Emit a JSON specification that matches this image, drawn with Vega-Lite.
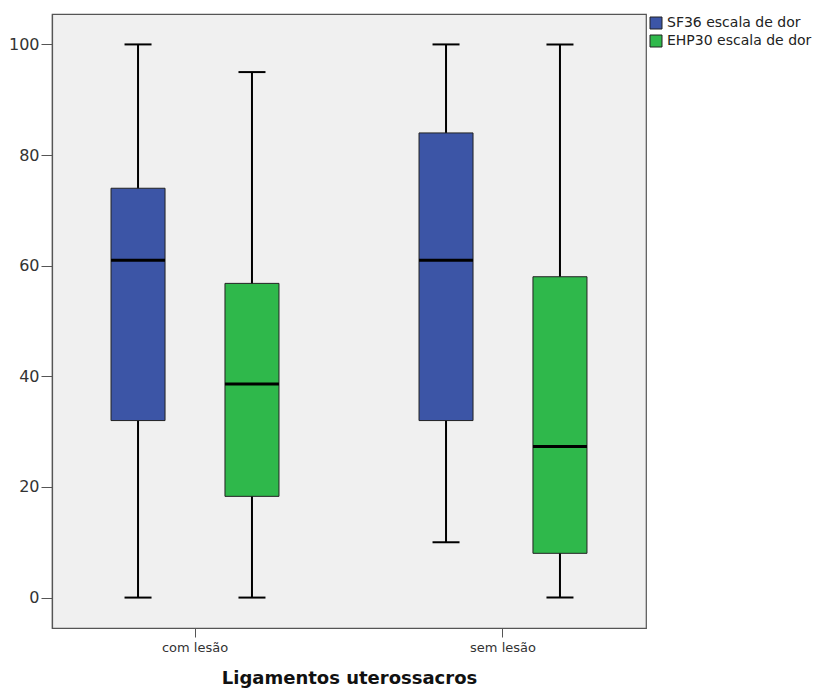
{
  "$schema": "https://vega.github.io/schema/vega-lite/v6.json",
  "autosize": {"type": "none"},
  "width": 594,
  "height": 614,
  "padding": {"left": 52, "top": 14, "right": 172, "bottom": 62},
  "background": "white",
  "config": {
    "font": "DejaVu Sans",
    "view": {"fill": "#f0f0f0", "stroke": "#555555", "strokeWidth": 1.2}
  },
  "data": {
    "values": [
      {"grupo": "com lesão", "escala": "SF36 escala de dor", "min": 0, "q1": 32, "median": 61, "q3": 74, "max": 100},
      {"grupo": "com lesão", "escala": "EHP30 escala de dor", "min": 0, "q1": 18.3, "median": 38.6, "q3": 56.8, "max": 95},
      {"grupo": "sem lesão", "escala": "SF36 escala de dor", "min": 10, "q1": 32, "median": 61, "q3": 84, "max": 100},
      {"grupo": "sem lesão", "escala": "EHP30 escala de dor", "min": 0, "q1": 8, "median": 27.3, "q3": 58, "max": 100}
    ]
  },
  "encoding": {
    "x": {
      "field": "grupo", "type": "nominal", "sort": ["com lesão", "sem lesão"],
      "scale": {"paddingInner": 0.0714, "paddingOuter": 0},
      "axis": {
        "title": "Ligamentos uterossacros", "titleFontSize": 18, "titleFontWeight": "bold",
        "titleColor": "#111111", "titlePadding": 15,
        "labelAngle": 0, "labelFontSize": 13, "labelColor": "#333333", "labelPadding": 4,
        "tickSize": 9, "tickColor": "#555555", "domainColor": "#555555", "domainWidth": 1.2
      }
    },
    "xOffset": {
      "field": "escala", "type": "nominal", "sort": ["SF36 escala de dor", "EHP30 escala de dor"],
      "scale": {"paddingInner": 0.526, "paddingOuter": 0.518}
    },
    "y": {
      "field": "min", "type": "quantitative",
      "scale": {"domain": [-5.5, 105.5], "nice": false, "zero": false},
      "axis": {
        "title": null, "grid": false, "values": [0, 20, 40, 60, 80, 100],
        "labelFontSize": 16, "labelColor": "#333333", "labelPadding": 2,
        "tickSize": 11, "tickColor": "#555555", "domainColor": "#555555", "domainWidth": 1.2
      }
    }
  },
  "layer": [
    {
      "mark": {"type": "rule", "color": "black", "strokeWidth": 2},
      "encoding": {"y2": {"field": "max"}}
    },
    {
      "mark": {"type": "bar", "stroke": "#222222", "strokeWidth": 1},
      "encoding": {
        "y": {"field": "q1", "type": "quantitative"},
        "y2": {"field": "q3"},
        "color": {
          "field": "escala", "type": "nominal",
          "sort": ["SF36 escala de dor", "EHP30 escala de dor"],
          "scale": {"domain": ["SF36 escala de dor", "EHP30 escala de dor"], "range": ["#3c55a6", "#2fb84b"]},
          "legend": {
            "title": null, "orient": "none", "legendX": 597, "legendY": 2, "padding": 0,
            "symbolType": "square", "symbolSize": 144, "symbolStrokeColor": "#222222", "symbolStrokeWidth": 1,
            "symbolOpacity": 1,
            "labelFontSize": 14, "labelColor": "#222222", "labelOffset": 4, "rowPadding": 2
          }
        }
      }
    },
    {
      "mark": {"type": "tick", "color": "black", "thickness": 3, "size": 54, "opacity": 1},
      "encoding": {"y": {"field": "median", "type": "quantitative"}}
    },
    {
      "mark": {"type": "tick", "color": "black", "thickness": 2, "size": 27, "opacity": 1},
      "encoding": {"y": {"field": "min", "type": "quantitative"}}
    },
    {
      "mark": {"type": "tick", "color": "black", "thickness": 2, "size": 27, "opacity": 1},
      "encoding": {"y": {"field": "max", "type": "quantitative"}}
    }
  ]
}
